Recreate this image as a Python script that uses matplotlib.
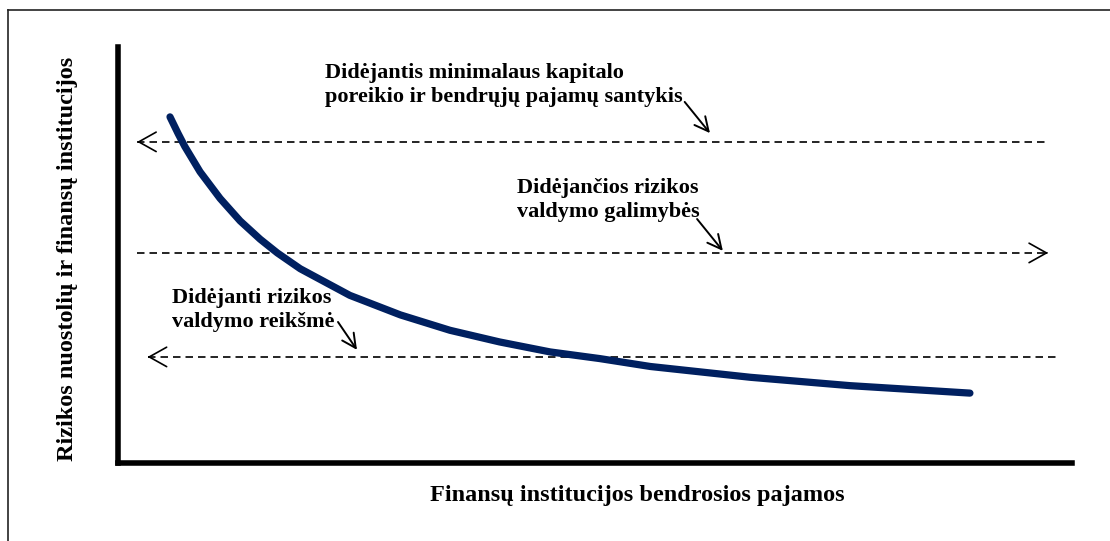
import matplotlib as mpl
from matplotlib import pyplot as plt
from matplotlib.lines import Line2D

mpl.rcParams["font.family"] = ["Liberation Serif", "DejaVu Serif"]
mpl.rcParams["font.weight"] = "bold"

# curve: risk losses vs. gross income (axis units 0..100)
income = [5.45, 6.3, 7.0, 8.6, 10.7, 12.8, 14.9, 16.7, 19.1, 24.3, 29.6, 34.8,
          40.0, 45.3, 50.5, 55.8, 66.3, 76.7, 89.3]
losses = [83.2, 79.2, 76.1, 70.0, 63.6, 58.2, 53.8, 50.5, 46.7, 40.3, 35.6, 31.9,
          29.1, 26.7, 25.1, 23.2, 20.6, 18.6, 16.8]

# dashed trend lines: level, start, end, arrow direction
levels = [77.2, 50.5, 25.5]
starts = [2.0, 2.0, 3.1]
ends = [97.5, 97.5, 98.5]
directions = ["left", "right", "left"]

labels = ["Didėjantis minimalaus kapitalo\nporeikio ir bendrųjų pajamų santykis",
          "Didėjančios rizikos\nvaldymo galimybės",
          "Didėjanti rizikos\nvaldymo reikšmė"]
label_x = [21.7, 41.8, 5.66]
label_y = [90.9, 63.2, 36.8]
# small pointer arrows from labels to lines
ptr_from = [(59.4, 86.8), (60.7, 58.65), (23.06, 33.9)]
ptr_to = [(62.05, 79.3), (63.4, 51.0), (25.05, 27.2)]

fig = plt.figure(figsize=(11.1, 5.41), dpi=100)
ax = fig.add_axes([118/1110, 78/541, 954/1110, 416/541])
ax.set_xlim(0, 100)
ax.set_ylim(0, 100)
ax.set_xticks([])
ax.set_yticks([])
for s in ["top", "right"]:
    ax.spines[s].set_visible(False)
for s in ["left", "bottom"]:
    ax.spines[s].set_linewidth(4.0)
    ax.spines[s].set_capstyle("projecting")

# outer frame (left and top only visible in picture)
fig.add_artist(Line2D([8/1110, 8/1110], [0, 1-10/541], transform=fig.transFigure, color="#222222", lw=1.2))
fig.add_artist(Line2D([8/1110, 1], [1-10/541, 1-10/541], transform=fig.transFigure, color="#222222", lw=1.2))

for lev, x0, x1, d in zip(levels, starts, ends, directions):
    ax.plot([x0, x1], [lev, lev], color="black", lw=1.2, dashes=(4.5, 3.0))
    tip = x0 if d == "left" else x1
    back = tip + 0.3 if d == "left" else tip - 0.3
    ax.annotate("", xy=(tip, lev), xytext=(back, lev),
                arrowprops=dict(arrowstyle="->,head_length=1.25,head_width=0.7", color="black", lw=1.2,
                                shrinkA=0, shrinkB=0))

ax.plot(income, losses, color="#002060", lw=5.2, solid_capstyle="round", solid_joinstyle="round")

for t, x, y in zip(labels, label_x, label_y):
    ax.text(x, y, t, ha="left", va="center", fontsize=16, fontweight="bold", linespacing=1.28)

for p0, p1 in zip(ptr_from, ptr_to):
    ax.annotate("", xy=p1, xytext=p0,
                arrowprops=dict(arrowstyle="->,head_length=1.0,head_width=0.5", color="black", lw=1.4,
                                shrinkA=0, shrinkB=0))

fig.text(68/1110, 1-259/541, "Rizikos nuostolių ir finansų institucijos", rotation=90,
         ha="center", va="center", fontsize=17.5, fontweight="bold")
fig.text(637/1110, 1-495/541, "Finansų institucijos bendrosios pajamos",
         ha="center", va="center", fontsize=17.5, fontweight="bold")

fig.savefig("out.png", dpi=100)
